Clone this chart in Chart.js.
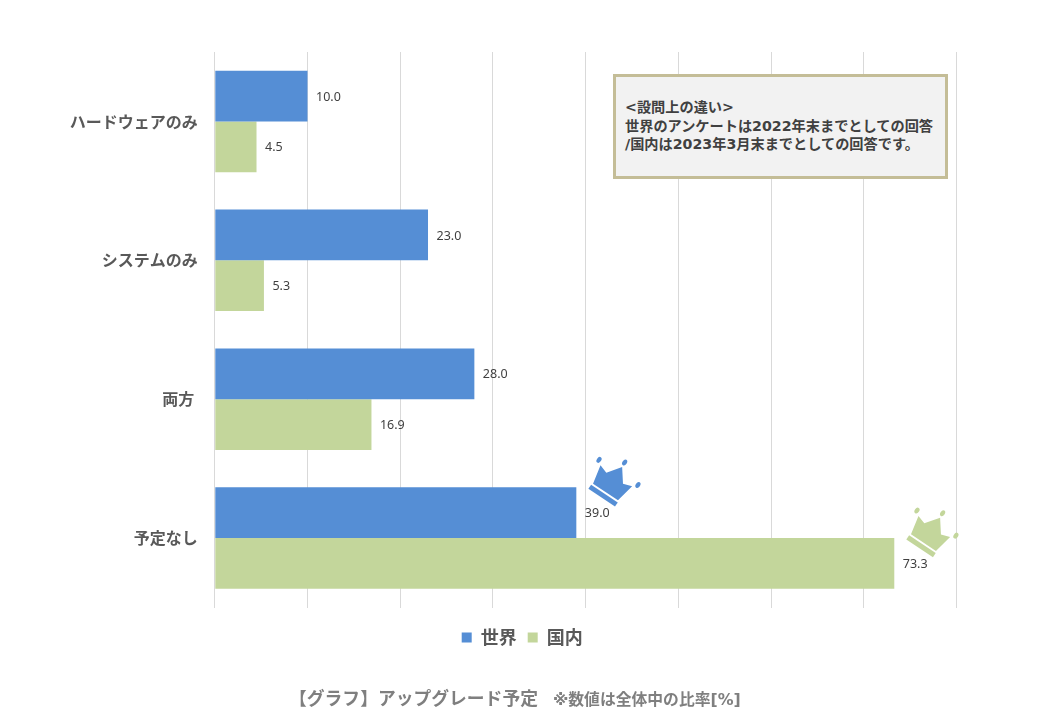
<!DOCTYPE html>
<html lang="ja">
<head>
<meta charset="utf-8">
<title>アップグレード予定</title>
<script src="https://cdn.jsdelivr.net/npm/chart.js@4/dist/chart.umd.min.js"></script>
<style>
  html, body { margin: 0; padding: 0; background: #fff; }
  body { position: relative; width: 1040px; height: 720px; overflow: hidden; font-family: "DejaVu Sans", "Noto Sans CJK JP", sans-serif; }
  canvas { position: absolute; left: 0; top: 0; }
  .note {
    position: absolute; left: 613px; top: 74px; width: 335px; height: 105px; box-sizing: border-box;
    border: 3px solid #c4bd97; background: #f2f2f2; color: #404040;
    font-size: 14.2px; font-weight: 700; line-height: 18.5px; padding: 21px 0 0 9px; white-space: nowrap;
  }
  .caption { position: absolute; left: 289px; top: 685px; color: #7f7f7f; font-weight: 700; font-size: 17.8px; line-height: 28px; white-space: nowrap; }
  .caption small { font-size: 15.8px; margin-left: 15px; }
</style>
</head>
<body>
<canvas id="chart" width="1040" height="720"></canvas>
<div class="note">&lt;設問上の違い&gt;<br>世界のアンケートは2022年末までとしての回答<br>/国内は2023年3月末までとしての回答です。</div>
<div class="caption">【グラフ】アップグレード予定<small>※数値は全体中の比率[%]</small></div>
<script>
const FONT = '"Noto Sans CJK JP", "Noto Sans", sans-serif';
const BLUE = '#558ed5';
const GREEN = '#c3d69b';

const labels = ['ハードウェアのみ', 'システムのみ', '両方 ', '予定なし'];
const world = [10.0, 23.0, 28.0, 39.0];
const japan = [4.5, 5.3, 16.9, 73.3];

function drawCrown(ctx, x, y, color) {
  ctx.save();
  ctx.translate(x, y);
  ctx.rotate(33.7 * Math.PI / 180);
  ctx.fillStyle = color;
  ctx.beginPath();
  ctx.moveTo(-15, 10.5);
  ctx.lineTo(15, 10.5);
  ctx.lineTo(19, -9);
  ctx.lineTo(10, -6);
  ctx.lineTo(0, -19.5);
  ctx.lineTo(-10, -6);
  ctx.lineTo(-19, -9);
  ctx.closePath();
  ctx.fill();
  ctx.fillRect(-16, 12.4, 32, 5);
  [[-23.2, -12.6], [-0.4, -24.6], [23.1, -13.3]].forEach(p => {
    ctx.beginPath();
    ctx.ellipse(p[0], p[1], 2.2, 3.2, 0, 0, Math.PI * 2);
    ctx.fill();
  });
  ctx.restore();
}

// value labels next to each bar, plus a crown on the largest bar of each series
const barExtras = {
  id: 'barExtras',
  afterLayout(chart) {
    // legend is centred under the whole figure, not under the plot
    chart.legend.left += 39;
    chart.legend.right += 39;
  },
  afterDatasetsDraw(chart) {
    const ctx = chart.ctx;
    ctx.save();
    ctx.font = '12.5px "Noto Sans", ' + FONT;
    ctx.fillStyle = '#404040';
    ctx.textAlign = 'left';
    ctx.textBaseline = 'middle';
    chart.data.datasets.forEach((ds, i) => {
      const bars = chart.getDatasetMeta(i).data;
      ds.data.forEach((v, j) => {
        ctx.fillText(v.toFixed(1), bars[j].x + 8.5, bars[j].y + 1);
      });
      const top = ds.data.indexOf(Math.max(...ds.data));
      drawCrown(ctx, bars[top].x + 35, bars[top].y - 29.5, ds.backgroundColor);
    });
    ctx.restore();
  }
};

new Chart(document.getElementById('chart'), {
  type: 'bar',
  data: {
    labels: labels,
    datasets: [
      { label: '世界', data: world, backgroundColor: BLUE, barPercentage: 1, categoryPercentage: 0.73 },
      { label: '国内', data: japan, backgroundColor: GREEN, barPercentage: 1, categoryPercentage: 0.73 },
    ]
  },
  options: {
    indexAxis: 'y',
    responsive: false,
    animation: false,
    layout: { padding: { left: 10, right: 83.6, top: 52, bottom: 63.5 } },
    scales: {
      x: {
        min: 0,
        max: 80,
        ticks: { display: false, stepSize: 10 },
        grid: { color: '#d9d9d9', lineWidth: 1, drawTicks: false },
        border: { display: false },
        afterFit: s => { s.height = 10; }
      },
      y: {
        grid: { display: false, drawTicks: false },
        border: { display: false },
        ticks: { color: '#595959', padding: 17, autoSkip: false, font: { family: FONT, size: 16, weight: '700' } },
        afterFit: s => { s.width = 204.8; }
      }
    },
    plugins: {
      tooltip: { enabled: false },
      legend: {
        position: 'bottom',
        labels: { boxWidth: 10, boxHeight: 10, padding: 11, color: '#595959', font: { family: FONT, size: 18, weight: '700' } }
      }
    }
  },
  plugins: [barExtras]
});
</script>
</body>
</html>
